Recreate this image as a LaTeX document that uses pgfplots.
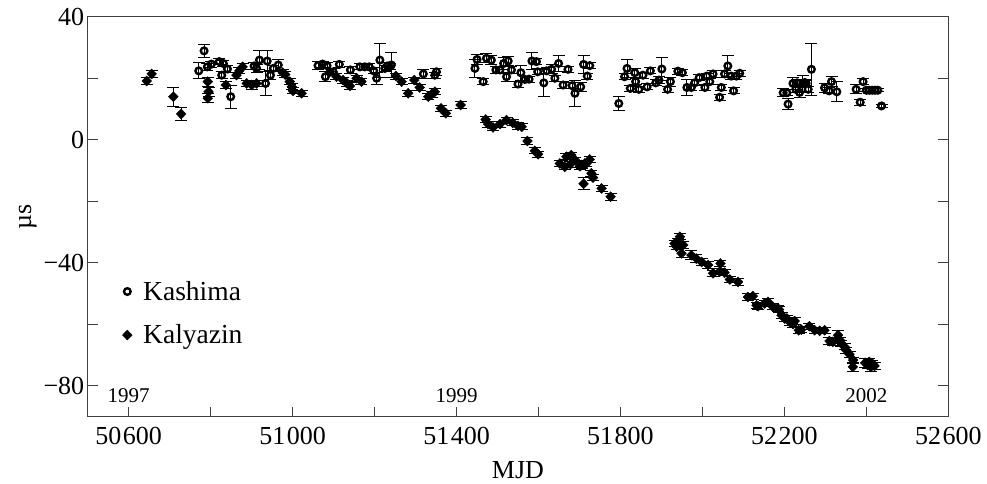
\documentclass[border=0pt]{standalone}
\usepackage{fontspec}
\setmainfont{Liberation Serif}
\usepackage{pgfplots}
\usepackage{pgfplotstable}
\pgfplotsset{compat=1.18}

% Clock offsets (microseconds) against MJD, with 1-sigma errors
\pgfplotstableread{
mjd dt err
50771 22.4 2.6
50784 28.9 2.0
50792 23.7 1.2
50802 24.6 1.0
50821 25.4 1.0
50831 24.8 1.0
50841 23.0 1.0
50827 21.0 1.2
50849 14.0 3.8
50906 24.0 1.0
50912 23.2 1.2
50919 25.9 3.2
50938 25.6 3.4
50934 18.3 4.0
50946 21.0 1.5
50953 23.2 1.0
50965 24.3 1.8
51062 24.1 1.2
51073 24.6 1.0
51084 24.1 1.0
51080 20.5 1.6
51099 22.1 1.0
51114 24.5 1.0
51141 22.7 1.2
51164 23.7 1.0
51176 23.7 1.0
51187 23.7 1.0
51198 22.4 1.0
51205 20.0 2.0
51213 25.9 5.5
51225 23.2 1.0
51231 24.0 1.0
51241 24.3 4.0
51319 21.4 1.6
51347 21.0 1.0
51351 22.1 1.2
51445 23.2 3.0
51450 26.1 1.5
51465 18.9 1.0
51473 26.5 1.5
51485 25.9 1.5
51496 22.7 1.0
51506 22.7 1.0
51515 24.8 2.0
51526 25.6 1.5
51522 20.5 1.5
51534 22.7 1.0
51550 18.1 1.0
51557 21.8 2.4
51567 19.6 1.0
51577 19.7 1.0
51584 25.6 2.7
51595 25.4 1.0
51598 22.1 1.0
51613 18.5 4.3
51620 22.4 1.0
51632 22.9 1.5
51640 20.0 1.0
51649 24.8 2.7
51660 17.8 1.0
51672 22.9 1.0
51682 17.6 1.0
51689 15.1 4.3
51703 17.2 1.5
51710 24.5 3.0
51719 20.7 1.0
51725 24.1 1.0
51796 11.8 2.2
51810 20.5 1.0
51816 23.2 2.8
51824 16.7 1.0
51835 21.8 1.5
51837 18.9 1.0
51845 16.4 1.0
51855 21.0 1.0
51865 17.2 1.0
51873 22.4 1.0
51886 18.5 1.0
51894 19.4 1.2
51901 23.0 3.8
51915 16.4 1.0
51922 18.9 1.5
51940 22.3 1.0
51951 21.8 1.0
51962 17.0 2.5
51973 17.0 1.0
51981 18.5 1.0
51992 20.2 1.0
52006 17.0 1.0
52011 20.7 1.0
52018 18.9 1.0
52026 21.4 1.0
52042 13.8 1.0
52046 17.0 1.0
52054 21.4 1.0
52062 24.0 3.5
52070 20.7 1.0
52076 15.9 1.0
52083 20.7 1.0
52091 21.6 1.0
52197 15.3 1.3
52206 15.3 1.0
52209 11.6 1.8
52221 18.3 2.0
52228 16.4 1.0
52231 18.5 1.0
52237 15.4 1.5
52245 18.3 2.5
52250 18.6 1.0
52253 18.3 1.0
52258 16.4 1.0
52266 22.9 8.5
52298 16.9 1.5
52309 15.9 1.0
52315 18.9 1.6
52328 15.6 3.2
52375 16.4 1.5
52385 12.2 1.0
52392 18.9 1.0
52400 16.1 0.5
52407 16.1 0.5
52414 16.1 0.5
52421 16.1 0.5
52428 16.1 0.5
52437 11.0 0.5
}\kashima

\pgfplotstableread{
mjd dt err
50644 19.1 1.0
50656 21.4 1.2
50709 14.0 3.1
50728 8.4 2.2
50793 18.9 1.5
50795 15.6 1.5
50793 13.5 1.5
50837 17.8 1.0
50863 21.0 1.0
50870 22.4 1.0
50878 23.7 1.0
50888 18.3 1.0
50900 17.8 1.5
50912 18.3 1.0
50976 21.8 1.0
50982 21.2 1.0
50993 18.9 1.0
50998 17.2 1.0
51001 15.9 1.0
51022 15.1 1.0
51091 22.1 1.0
51107 20.5 1.0
51123 19.4 1.0
51132 18.4 1.0
51140 17.5 1.0
51156 20.0 1.0
51168 18.9 1.0
51237 23.7 1.0
51252 20.7 1.0
51266 18.9 1.0
51282 15.1 1.0
51297 19.4 1.0
51310 17.0 1.0
51331 14.0 1.0
51339 14.8 1.0
51347 15.6 1.0
51362 10.2 1.0
51374 8.6 1.0
51410 11.3 1.0
51471 6.6 1.0
51477 5.1 1.0
51489 4.0 1.0
51506 5.1 1.0
51522 6.4 1.0
51537 5.5 1.0
51550 4.5 1.0
51559 4.2 1.0
51573 -0.4 1.0
51591 -3.6 1.0
51599 -4.7 1.0
51652 -7.7 1.0
51664 -8.8 1.0
51668 -5.5 1.0
51680 -5.0 1.0
51678 -7.9 1.0
51689 -6.6 1.0
51701 -8.6 1.0
51705 -8.2 1.0
51713 -7.7 1.0
51717 -7.7 1.0
51725 -6.4 1.0
51729 -10.9 1.0
51733 -12.3 1.0
51710 -14.3 2.0
51754 -15.8 1.0
51776 -18.5 1.2
51932 -33.7 1.0
51937 -34.8 1.0
51940 -33.2 1.0
51945 -31.5 1.0
51953 -34.2 1.0
51949 -36.9 1.5
51973 -37.5 1.5
51985 -38.6 1.2
51998 -39.7 1.0
52014 -40.7 1.0
52026 -43.4 1.0
52042 -42.9 1.0
52044 -40.2 1.0
52054 -43.2 1.0
52067 -45.4 1.0
52087 -46.2 1.0
52111 -51.1 1.0
52123 -50.8 1.0
52132 -53.8 1.0
52136 -54.1 1.0
52152 -53.2 1.0
52160 -52.7 1.0
52172 -54.3 1.0
52184 -54.8 1.0
52187 -55.2 1.0
52193 -57.0 1.0
52201 -58.1 1.0
52206 -58.1 1.0
52213 -59.2 1.0
52221 -59.9 1.0
52225 -58.9 1.0
52235 -61.9 1.0
52241 -61.7 1.0
52261 -60.6 1.0
52274 -61.9 1.0
52286 -62.1 1.0
52298 -61.9 1.0
52310 -65.4 1.0
52318 -65.7 1.0
52331 -63.5 1.5
52335 -65.1 1.0
52339 -66.2 1.0
52347 -67.3 1.0
52351 -68.4 1.0
52359 -69.7 1.0
52368 -71.6 1.0
52367 -73.8 1.5
52397 -72.5 1.5
52403 -73.2 1.0
52407 -72.2 1.0
52411 -73.8 1.5
52415 -72.8 1.0
52420 -73.5 1.0
}\kalyazin

\begin{document}
\begin{tikzpicture}
\useasboundingbox (-87.7pt,-66.3pt) rectangle (899.3pt,416.7pt);
\begin{axis}[
  scale only axis, width=860.6pt, height=400pt,
  xmin=50500, xmax=52600, ymin=-90, ymax=40,
  scaled x ticks=false,
  xtick={50600,51000,51400,51800,52200,52600},
  xticklabels={50\kern1.5pt600,51\kern1.5pt000,51\kern1.5pt400,51\kern1.5pt800,52\kern1.5pt200,52\kern1.5pt600},
  minor xtick={50800,51200,51600,52000,52400},
  ytick={-80,-40,0,40},
  yticklabels={−80,−40,0,40},
  minor ytick={-60,-20,20},
  xtick pos=left,
  tick align=inside,
  major tick length=10pt, minor tick length=10pt,
  axis line style={draw=black!75, line width=1.3pt},
  every tick/.style={black!75, line width=1.1pt},
  tick label style={font=\fontsize{26}{30}\selectfont},
  xticklabel style={yshift=-7pt},
  label style={font=\fontsize{26}{30}\selectfont},
  xlabel={MJD}, ylabel={µs},
  xlabel style={yshift=-10pt},
  reverse legend,
  legend cell align=left,
  legend style={at={(axis cs:50577,-44.6)}, anchor=north west, draw=none, fill=none,
    font=\fontsize{27.5}{33}\selectfont, row sep=19pt, column sep=9pt},
  error bars/error bar style={line width=1pt, black},
  error bars/error mark options={rotate=90, black, mark size=6pt, line width=1pt},
]
\addplot[only marks, black, mark=diamond*, mark size=5pt, mark options={xscale=1.3},
  error bars/.cd, y dir=both, y explicit]
  table[x=mjd, y=dt, y error=err] {\kalyazin};
\addlegendentry{Kalyazin}
\addplot[only marks, black, mark=o, mark size=3.3pt, mark options={line width=2.4pt},
  error bars/.cd, y dir=both, y explicit]
  table[x=mjd, y=dt, y error=err] {\kashima};
\addlegendentry{Kashima}

\node[font=\fontsize{21}{24}\selectfont] at (axis cs:50600,-83) {1997};
\node[font=\fontsize{21}{24}\selectfont] at (axis cs:51400,-83) {1999};
\node[font=\fontsize{21}{24}\selectfont] at (axis cs:52400,-83) {2002};
\end{axis}
\end{tikzpicture}
\end{document}
